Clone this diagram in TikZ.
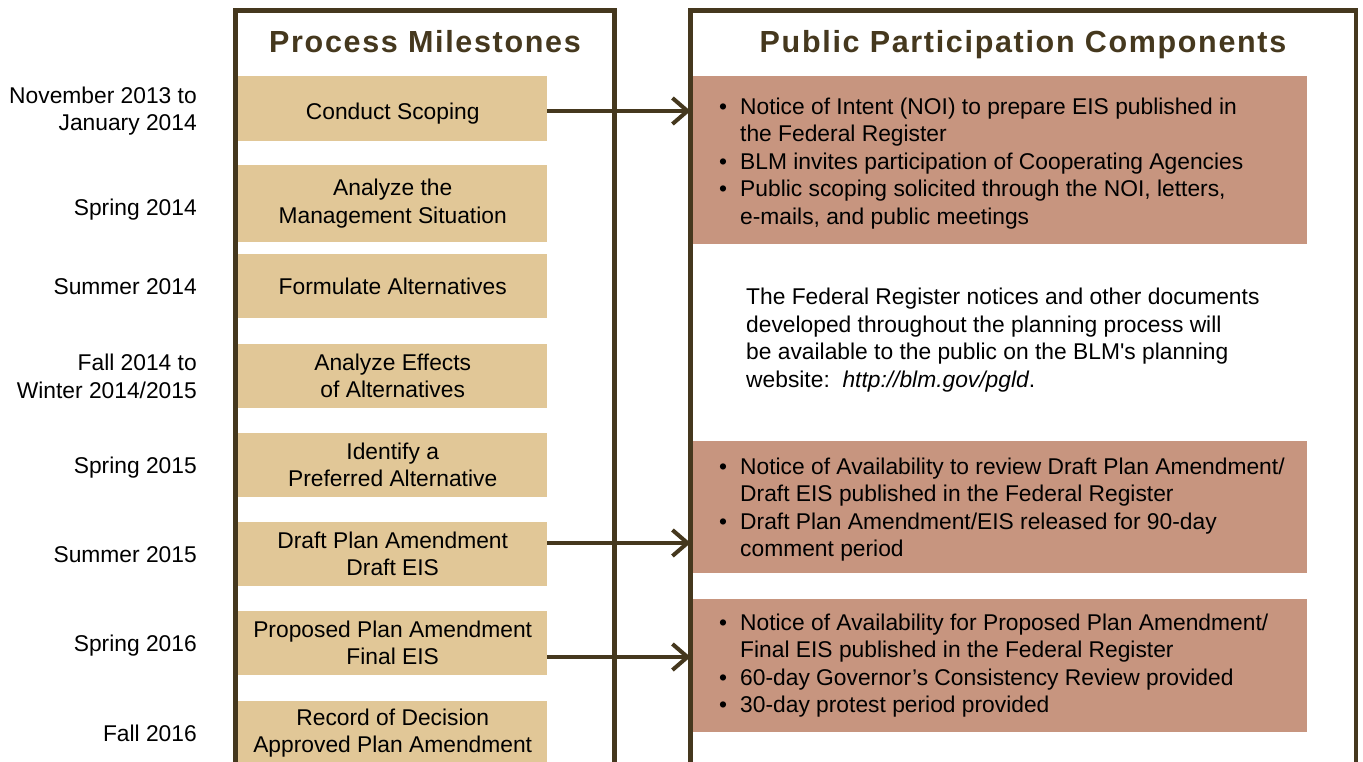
\documentclass[tikz,border=0pt]{standalone}
\usepackage{fontspec}
\setmainfont{Liberation Sans}
\usetikzlibrary{arrows.meta, positioning}

\definecolor{framebrown}{RGB}{69,56,30}
\definecolor{milestan}{RGB}{225,199,151}
\definecolor{partsalmon}{RGB}{199,149,127}

\newcommand{\pbul}{\leavevmode\llap{\textbullet\hspace{13pt}}}
\newcommand{\pbox}[2][0pt]{\parbox{614pt}{\vspace*{#1}\raggedright\leftskip=47pt #2}}

\begin{document}
\begin{tikzpicture}[
			x=1pt, y=-1pt,
			font=\fontsize{22.8}{27.5}\selectfont,
			frame/.style={draw=framebrown, line width=4.2pt},
			heading/.style={font=\fontsize{30.5}{36}\selectfont\bfseries\addfontfeature{LetterSpace=5.5}, text=framebrown, inner sep=0pt, anchor=base},
			milestone/.style={fill=milestan, minimum width=309pt, inner sep=0pt, align=center, anchor=west},
			period/.style={align=right, inner sep=0pt, left=41pt of #1, yshift=-3pt},
			component/.style={fill=partsalmon, inner sep=0pt, anchor=north west},
			link/.style={draw=framebrown, line width=4pt, -{Straight Barb[length=15pt, width=26pt, line width=4pt]}}
			]
			\useasboundingbox (0,0) rectangle (1363,762);
			% frames
			\draw[frame] (235.5,775) |- (614.5,10.5) -- (614.5,775);
			\draw[frame] (690.5,775) |- (1356,10.5) -- (1356,775);
			\coordinate (ppc) at (690.5,10.5);
			\node[heading] (mshead) at (425,53) {Process Milestones};
			\node[heading] (pphead) at (1023,53) {Public Participation Components};

			% milestones
			\node[milestone, minimum height=65pt, text height=26pt] (scoping) at (238,108.5) {Conduct Scoping};
			\node[milestone, minimum height=77pt] (ams) at (238,203.5) {Analyze the\\Management Situation};
			\node[milestone, minimum height=64pt] (formulate) at (238,286) {Formulate Alternatives};
			\node[milestone, minimum height=64pt] (effects) at (238,376) {Analyze Effects\\of Alternatives};
			\node[milestone, minimum height=64pt] (preferred) at (238,465) {Identify a\\Preferred Alternative};
			\node[milestone, minimum height=64pt] (draft) at (238,554) {Draft Plan Amendment\\Draft EIS};
			\node[milestone, minimum height=64pt] (final) at (238,643) {Proposed Plan Amendment\\Final EIS};
			\node[milestone, minimum height=64pt] (decision) at (238,733) {Record of Decision\\Approved Plan Amendment};

			% periods
			\node[period=scoping] {November 2013 to\strut\\January 2014\strut};
			\node[period=ams, yshift=-4pt] {Spring 2014\strut};
			\node[period=formulate] {Summer 2014\strut};
			\node[period=effects] {Fall 2014 to\strut\\Winter 2014/2015\strut};
			\node[period=preferred] {Spring 2015\strut};
			\node[period=draft] {Summer 2015\strut};
			\node[period=final] {Spring 2016\strut};
			\node[period=decision] {Fall 2016\strut};

			% participation
			\node[component, minimum height=168pt] (noi) at (693,76) {\pbox[6pt]{%
				\pbul Notice of Intent (NOI) to prepare EIS published in\\
				the Federal Register\\
				\pbul BLM invites participation of Cooperating Agencies\\
				\pbul Public scoping solicited through the NOI, letters,\\
				e-mails, and public meetings}};
			\node[align=left, inner sep=0pt, anchor=west] (website) at (746,340) {The Federal Register notices and other documents\\
				developed throughout the planning process will\\
				be available to the public on the BLM\textquotesingle s planning\\
				website:\ \ \textit{http://blm.gov/pgld}.};
			\node[component, minimum height=132pt] (draftnoa) at (693,441) {\pbox[5pt]{%
				\pbul Notice of Availability to review Draft Plan Amendment/\\
				Draft EIS published in the Federal Register\\
				\pbul Draft Plan Amendment/EIS released for 90-day\\
				comment period}};
			\node[component, minimum height=133pt] (finalnoa) at (693,599) {\pbox{%
				\pbul Notice of Availability for Proposed Plan Amendment/\\
				Final EIS published in the Federal Register\\
				\pbul 60-day Governor’s Consistency Review provided\\
				\pbul 30-day protest period provided}};

			% connectors
			\draw[link] ([yshift=-2.5pt]scoping.east) -- ([yshift=-2.5pt]scoping.east -| ppc);
			\draw[link] ([yshift=11pt]draft.east) -- ([yshift=11pt]draft.east -| ppc);
			\draw[link] ([yshift=-14pt]final.east) -- ([yshift=-14pt]final.east -| ppc);
		\end{tikzpicture}
\end{document}
